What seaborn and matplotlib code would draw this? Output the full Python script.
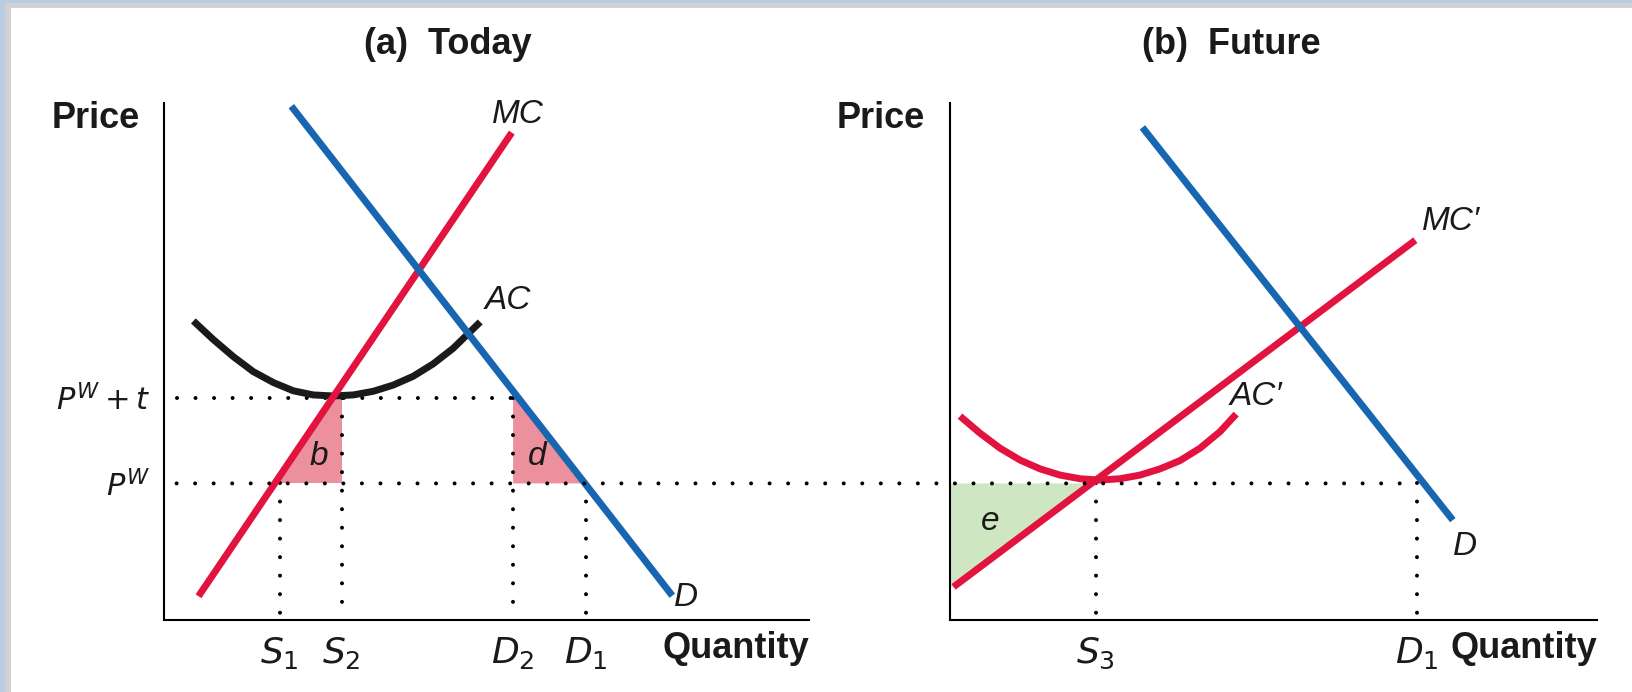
import matplotlib
matplotlib.use("Agg")
import matplotlib.pyplot as plt
from matplotlib.patches import Rectangle, ConnectionPatch
import seaborn as sns

# ==================== 数据 ====================
# (a) Today —— 价格/数量坐标均为 0-100 的示意单位
pw, pw_t = 26.4, 43.0
s1, s2, d2, d1 = 17.9, 27.5, 54.1, 65.4
mc_q = [5.3, 53.9]
mc_p = [4.6, 94.2]
dem_q = [19.7, 78.8]
dem_p = [99.3, 4.7]
ac_q = [4.5, 7.6, 10.7, 13.8, 16.9, 20.0, 23.1, 26.2, 29.3, 32.4, 35.5, 38.6, 41.7, 44.8, 49.0]
ac_p = [57.8, 54.2, 50.9, 48.0, 45.9, 44.3, 43.5, 43.3, 43.5, 44.2, 45.4, 47.1, 49.5, 52.5, 57.6]
b_q = [17.1, 27.5, 27.5, 26.1]
b_p = [26.4, 26.4, 43.0, 43.0]
d_q = [54.1, 54.1, 65.3, 54.8]
d_p = [43.0, 26.4, 26.4, 43.0]

# (b) Future
s3, d1_b = 22.5, 72.1
mc2_q = [0.5, 71.9]
mc2_p = [6.4, 73.4]
dem2_q = [29.7, 77.7]
dem2_p = [95.2, 19.3]
ac2_q = [1.5, 4.6, 7.7, 10.8, 13.9, 17.0, 20.1, 23.1, 26.2, 29.3, 32.4, 35.5, 38.6, 41.7, 44.2]
ac2_p = [39.4, 36.1, 33.2, 30.9, 29.2, 28.0, 27.3, 27.05, 27.3, 28.0, 29.2, 30.8, 33.2, 36.4, 39.8]
e_q = [0.0, 21.8, 0.5, 0.0]
e_p = [26.4, 26.4, 6.4, 6.4]

# ==================== 样式 ====================
RED = "#e2133f"
BLUE = "#1766b1"
PINK = "#ec909d"
GREEN = "#cfe6c3"
INK = "#1a1a1a"
LW = 5.0
DOTS = (0, (0.001, 4.6))
NARROW = ["Liberation Sans Narrow", "Liberation Sans", "DejaVu Sans"]

sns.set_theme(style="white")
plt.rcParams["font.family"] = ["Liberation Sans", "DejaVu Sans"]
plt.rcParams["mathtext.fontset"] = "custom"
plt.rcParams["mathtext.rm"] = "Liberation Sans Narrow"
plt.rcParams["mathtext.it"] = "Liberation Sans Narrow:italic"

fig = plt.figure(figsize=(16.32, 6.92), dpi=100)
fig.patch.set_facecolor("white")
ax_a = fig.add_axes([0.1007, 0.104, 0.395, 0.7478])
ax_b = fig.add_axes([0.5823, 0.104, 0.3963, 0.7478])


def dotted(ax, x, y):
    ax.plot(x, y, color="black", lw=2.9, linestyle=DOTS,
            dash_capstyle="round", zorder=3)


def label(ax, x, y, s, size=24):
    ax.text(x, y, s, fontsize=size, fontfamily=NARROW, style="italic",
            ha="center", va="center", color=INK)


def curve(ax, q, p, color, z, sort=True):
    sns.lineplot(x=q, y=p, ax=ax, color=color, linewidth=LW,
                 solid_capstyle="butt", zorder=z, sort=sort)


for ax in (ax_a, ax_b):
    ax.set_xlim(0, 100)
    ax.set_ylim(0, 100)
    sns.despine(ax=ax)
    for sp in ("left", "bottom"):
        ax.spines[sp].set_color("black")
        ax.spines[sp].set_linewidth(1.5)
    ax.tick_params(axis="x", length=0, labelsize=26, pad=11, labelcolor=INK)
    ax.tick_params(axis="y", length=0, labelsize=22, pad=10, labelcolor=INK)
    ax.text(-0.107, 0.97, "Price", transform=ax.transAxes, fontsize=26,
            fontweight="bold", ha="center", va="center", color=INK)
    ax.text(1.0, -0.0555, "Quantity", transform=ax.transAxes, fontsize=26,
            fontweight="bold", ha="right", va="center", color=INK)

# ---------------- (a) Today ----------------
ax_a.fill(b_q, b_p, color=PINK, lw=0, zorder=1)
ax_a.fill(d_q, d_p, color=PINK, lw=0, zorder=1)
dotted(ax_a, [1.9, d2], [pw_t, pw_t])
for xq, top in ((s1, pw), (s2, pw_t), (d2, pw_t), (d1, pw)):
    dotted(ax_a, [xq, xq], [top, 0])
curve(ax_a, ac_q, ac_p, INK, 4)
curve(ax_a, mc_q, mc_p, RED, 5)
curve(ax_a, dem_q, dem_p, BLUE, 6, sort=False)
label(ax_a, 54.9, 97.6, "MC")
label(ax_a, 53.3, 61.8, "AC")
label(ax_a, 80.9, 4.3, "D")
label(ax_a, 24.0, 31.6, "b")
label(ax_a, 57.8, 31.6, "d")
ax_a.set_xticks([s1, s2, d2, d1], labels=[r"$S_1$", r"$S_2$", r"$D_2$", r"$D_1$"])
ax_a.set_yticks([pw, pw_t], labels=[r"$P^W$", r"$P^W + t$"])
ax_a.text(0.44, 1.113, "(a)  Today", transform=ax_a.transAxes, fontsize=26,
          fontweight="bold", ha="center", va="center", color=INK)

# ---------------- (b) Future ----------------
ax_b.fill(e_q, e_p, color=GREEN, lw=0, zorder=1)
for xq in (s3, d1_b):
    dotted(ax_b, [xq, xq], [pw, 0])
# 世界价格 P^W 的点线横跨两幅图
con = ConnectionPatch(xyA=(1.9, pw), coordsA=ax_a.transData,
                      xyB=(d1_b, pw), coordsB=ax_b.transData,
                      color="black", lw=2.9, linestyle=DOTS, capstyle="round",
                      zorder=3)
fig.add_artist(con)
curve(ax_b, ac2_q, ac2_p, RED, 4)
curve(ax_b, mc2_q, mc2_p, RED, 5)
curve(ax_b, dem2_q, dem2_p, BLUE, 6, sort=False)
label(ax_b, 77.4, 77.0, "MC\u2032")
label(ax_b, 47.2, 43.1, "AC\u2032")
label(ax_b, 79.6, 14.2, "D")
label(ax_b, 6.1, 19.0, "e")
ax_b.set_xticks([s3, d1_b], labels=[r"$S_3$", r"$D_1$"])
ax_b.set_yticks([])
ax_b.text(0.435, 1.113, "(b)  Future", transform=ax_b.transAxes, fontsize=26,
          fontweight="bold", ha="center", va="center", color=INK)

# 外框：顶部/左侧的浅蓝色与灰色边
H, W = 692.0, 1632.0
fig.add_artist(Rectangle((0, 1 - 8.3 / H), 1, 8.3 / H, transform=fig.transFigure,
                         color="#d2d2d2", lw=0, zorder=0))
fig.add_artist(Rectangle((0, 0), 10.7 / W, 1, transform=fig.transFigure,
                         color="#d2d2d2", lw=0, zorder=0))
fig.add_artist(Rectangle((0, 1 - 3.3 / H), 1, 3.3 / H, transform=fig.transFigure,
                         color="#b8cce4", lw=0, zorder=0))
fig.add_artist(Rectangle((0, 0), 5.0 / W, 1, transform=fig.transFigure,
                         color="#b8cce4", lw=0, zorder=0))

fig.savefig("out.png", dpi=100)
